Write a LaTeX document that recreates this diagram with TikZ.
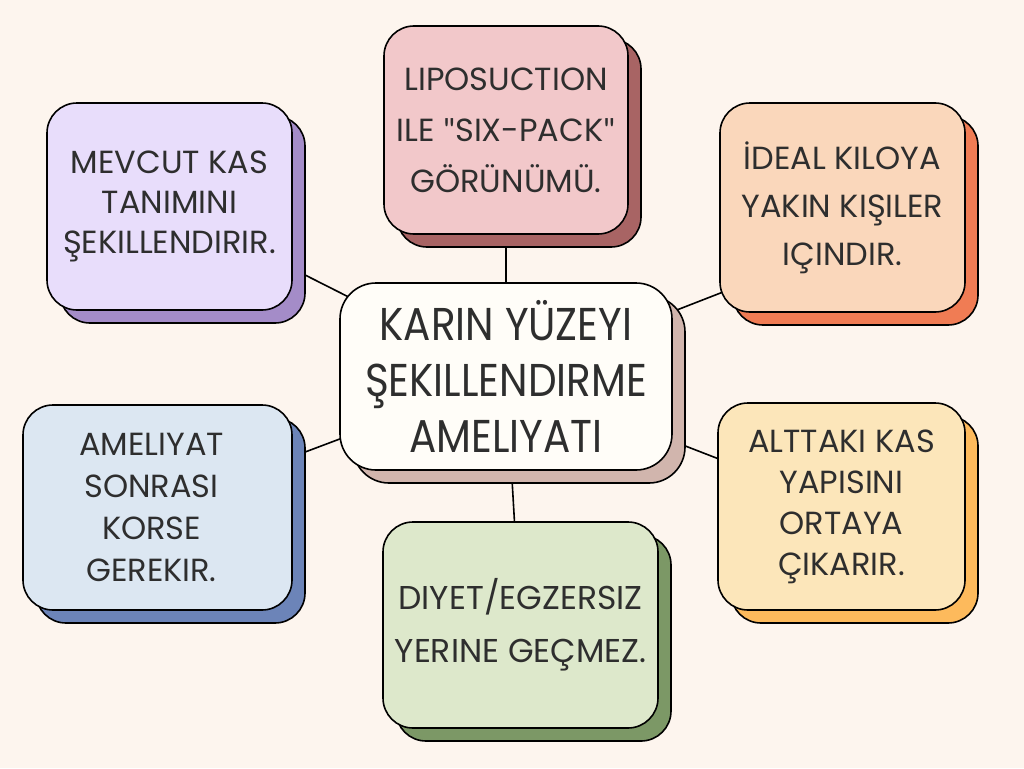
\documentclass[tikz,border=0pt]{standalone}
\usepackage{fontspec}
\setmainfont{Poppins}
\newfontfamily\centerfont[FakeStretch=0.88]{Poppins}
\newfontfamily\quotefont{Lato}
\newcommand{\qmark}{{\quotefont"}}
\usepackage{tikz}
\usetikzlibrary{positioning,shadows,backgrounds}

\definecolor{paper}{HTML}{FDF5EE}
\definecolor{ink}{HTML}{2E2E2E}
\definecolor{centerFill}{HTML}{FFFDF8}
\definecolor{centerShadow}{HTML}{D1B5AD}
\definecolor{lipoFill}{HTML}{F2C8CA}
\definecolor{lipoShadow}{HTML}{A86464}
\definecolor{mevcutFill}{HTML}{E8DDFB}
\definecolor{mevcutShadow}{HTML}{A48CC8}
\definecolor{idealFill}{HTML}{FAD7BB}
\definecolor{idealShadow}{HTML}{F07C54}
\definecolor{ameliyatFill}{HTML}{DCE7F2}
\definecolor{ameliyatShadow}{HTML}{6C84B8}
\definecolor{diyetFill}{HTML}{DDE8CB}
\definecolor{diyetShadow}{HTML}{7C9866}
\definecolor{alttakiFill}{HTML}{FCE6BA}
\definecolor{alttakiShadow}{HTML}{FDBA5C}

\begin{document}
\begin{tikzpicture}[x=1pt, y=-1pt,
  box/.style 2 args = {shape=rectangle, rounded corners=30pt,
    draw=black, line width=1.6pt, align=center, inner sep=0pt,
    text=ink, fill=#1,
    font={\fontsize{32}{40}\selectfont},
    copy shadow={fill=#2, draw=black, line width=1.6pt, opacity=1,
      shadow xshift=13pt, shadow yshift=-13pt}},
  link/.style = {draw=black, line width=1.6pt}]
    \useasboundingbox (0,0) rectangle (1024,768);

    \node[box={centerFill}{centerShadow}, minimum width=332pt, minimum height=187pt,
      rounded corners=36pt, font={\centerfont\fontsize{46}{56}\selectfont}]
      (main) at (506,376.5) {\raisebox{-7pt}{\parbox{320pt}{\centering KARIN YÜZEYI\\ŞEKILLENDIRME\\AMELIYATI}}};

    \node[box={lipoFill}{lipoShadow}, minimum width=244pt, minimum height=208pt,
      font={\fontsize{32}{51}\selectfont}]
      (lipo) at (506,130) {LIPOSUCTION\\ILE \qmark SIX-PACK\qmark\\GÖRÜNÜMÜ.};
    \node[box={mevcutFill}{mevcutShadow}, minimum width=245pt, minimum height=207pt]
      (mevcut) at (169.5,206.5) {MEVCUT KAS\\TANIMINI\\ŞEKILLENDIRIR.};
    \node[box={idealFill}{idealShadow}, minimum width=245pt, minimum height=209pt,
      font={\fontsize{32}{48}\selectfont}]
      (ideal) at (842.5,207.5) {İDEAL KILOYA\\YAKIN KIŞILER\\IÇINDIR.};
    \node[box={ameliyatFill}{ameliyatShadow}, minimum width=269pt, minimum height=205pt,
      font={\fontsize{32}{42}\selectfont}]
      (ameliyat) at (157.5,507.5) {\hspace*{-12pt}AMELIYAT\\\hspace*{-12pt}SONRASI\\\hspace*{-12pt}KORSE\\\hspace*{-12pt}GEREKIR.};
    \node[box={diyetFill}{diyetShadow}, minimum width=275pt, minimum height=206pt,
      font={\fontsize{33}{53}\selectfont}]
      (diyet) at (520.5,625) {DIYET/EGZERSIZ\\YERINE GEÇMEZ.};
    \node[box={alttakiFill}{alttakiShadow}, minimum width=247pt, minimum height=207pt,
      font={\fontsize{32}{41}\selectfont}]
      (alttaki) at (841.5,506.5) {ALTTAKI KAS\\YAPISINI\\ORTAYA\\ÇIKARIR.};

    % connectors run behind the boxes
    \begin{pgfonlayer}{background}
      \fill[paper] (0,0) rectangle (1024,768);
      \draw[link] (main.center) -- (lipo.center);
      \draw[link] (main.center) -- (mevcut.center);
      \draw[link] (main.center) -- ([yshift=-38pt]ideal.center);
      \draw[link] (main.center) -- (ameliyat.center);
      \draw[link] (main.center) -- (diyet.center);
      \draw[link] (main.center) -- (alttaki.center);
    \end{pgfonlayer}
\end{tikzpicture}
\end{document}
